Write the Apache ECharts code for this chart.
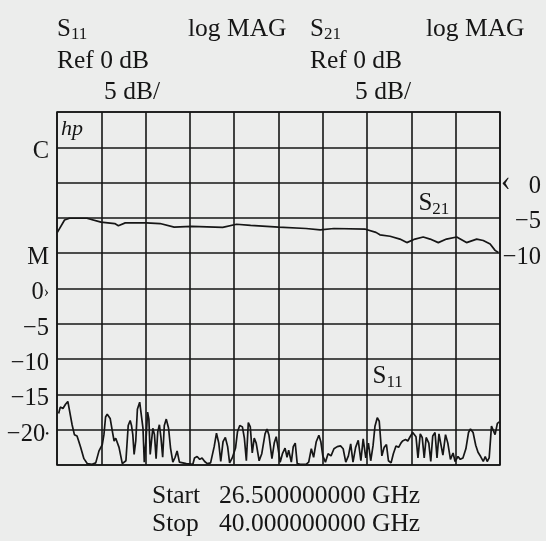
<!DOCTYPE html>
<html>
<head>
<meta charset="utf-8">
<script src="https://cdn.jsdelivr.net/npm/echarts@6/dist/echarts.min.js"></script>
<style>
  html, body { margin: 0; padding: 0; background: #ecedec; }
  #chart { width: 546px; height: 541px; }
</style>
</head>
<body>
<div id="chart"></div>
<script>
// sweep 26.5 - 40 GHz, 10 divisions
var freqStart = 26.5;
var freqStop = 40;

// S11 trace (left scale, dB)
var s11Freq = [26.55, 26.60, 26.68, 26.76, 26.83, 26.89, 26.96, 27.03, 27.11, 27.16, 27.22, 27.32, 27.42, 27.57, 27.68, 27.78, 27.88, 27.93, 27.98, 28.03,
  28.12, 28.19, 28.24, 28.29, 28.34, 28.39, 28.49, 28.60, 28.67, 28.73, 28.77, 28.81, 28.85, 28.90, 28.95, 29.02, 29.08, 29.12, 29.16, 29.21,
  29.26, 29.30, 29.34, 29.38, 29.42, 29.47, 29.52, 29.57, 29.62, 29.67, 29.72, 29.77, 29.83, 29.90, 29.96, 30.03, 30.10, 30.16, 30.23, 30.44,
  30.64, 30.69, 30.77, 30.85, 30.92, 31.00, 31.08, 31.18, 31.29, 31.36, 31.43, 31.49, 31.56, 31.63, 31.70, 31.76, 31.84, 31.90, 31.94, 32.00,
  32.07, 32.15, 32.21, 32.27, 32.33, 32.39, 32.45, 32.51, 32.57, 32.66, 32.74, 32.84, 32.90, 32.96, 33.05, 33.12, 33.18, 33.23, 33.30, 33.37,
  33.45, 33.51, 33.56, 33.64, 33.70, 33.76, 33.82, 33.91, 34.09, 34.17, 34.25, 34.32, 34.40, 34.48, 34.54, 34.60, 34.68, 34.76, 34.85, 34.94,
  35.04, 35.14, 35.22, 35.30, 35.38, 35.45, 35.52, 35.60, 35.68, 35.76, 35.83, 35.91, 35.99, 36.06, 36.13, 36.19, 36.26, 36.32, 36.40, 36.47,
  36.54, 36.60, 36.68, 36.75, 36.83, 36.91, 36.98, 37.03, 37.12, 37.19, 37.26, 37.34, 37.39, 37.44, 37.50, 37.57, 37.63, 37.69, 37.75, 37.83,
  37.89, 37.95, 38.02, 38.08, 38.14, 38.20, 38.26, 38.34, 38.41, 38.49, 38.57, 38.63, 38.72, 38.79, 38.87, 38.96, 39.04, 39.10, 39.18, 39.26,
  39.33, 39.41, 39.49, 39.55, 39.61, 39.67, 39.74, 39.79, 39.85, 39.92, 39.98];
var s11Db = [-17.7, -16.8, -17.0, -16.4, -16.0, -17.5, -19.3, -20.7, -20.9, -21.6, -22.5, -24.1, -24.8, -24.9, -24.7, -23.0, -22.1, -20.7, -18.2, -17.8,
  -18.4, -20.3, -21.6, -21.2, -21.4, -22.5, -24.8, -24.4, -19.4, -18.7, -19.4, -20.7, -23.5, -21.6, -17.1, -16.1, -16.2, -19.8, -24.6, -21.6,
  -17.5, -18.5, -23.5, -21.6, -19.8, -20.7, -24.1, -20.3, -19.3, -21.2, -23.9, -19.4, -18.5, -19.8, -22.6, -24.6, -23.9, -23.0, -24.6, -24.8,
  -24.9, -24.0, -23.8, -24.2, -24.0, -24.5, -24.8, -24.7, -22.4, -20.5, -21.9, -24.5, -21.7, -21.1, -22.4, -24.7, -24.0, -24.2, -22.6, -20.3,
  -19.4, -19.6, -21.2, -24.4, -19.0, -19.6, -23.3, -21.2, -21.9, -24.4, -23.4, -20.6, -19.9, -20.8, -24.1, -21.9, -21.0, -22.4, -24.6, -23.4,
  -22.6, -23.9, -22.9, -24.6, -22.4, -21.9, -24.8, -24.9, -24.9, -24.6, -22.7, -23.9, -21.7, -20.8, -21.7, -23.7, -24.6, -23.4, -23.7, -22.7,
  -22.4, -22.3, -22.7, -24.6, -23.7, -22.0, -24.6, -22.5, -21.5, -24.4, -21.3, -24.0, -21.9, -24.4, -22.3, -19.5, -18.3, -18.8, -23.7, -22.5,
  -22.1, -24.4, -24.7, -23.4, -22.3, -22.5, -21.9, -21.6, -21.4, -21.6, -21.0, -20.4, -20.2, -21.0, -24.0, -20.6, -21.1, -24.0, -21.1, -21.9,
  -24.5, -20.9, -20.4, -24.0, -20.6, -20.4, -23.6, -20.7, -21.9, -24.2, -23.3, -24.5, -23.8, -24.2, -24.0, -22.7, -20.4, -19.9, -20.4, -22.2,
  -23.2, -23.8, -24.5, -23.8, -24.5, -24.0, -19.5, -19.3, -20.7, -19.1, -18.9];

// S21 trace (right scale, dB)
var s21Freq = [26.51, 26.73, 26.88, 27.41, 27.84, 28.26, 28.37, 28.58, 29.22, 29.64, 30.07, 30.60, 31.55, 31.97, 32.40, 33.25, 34.09, 34.52, 34.94, 35.90,
  36.22, 36.34, 36.65, 36.95, 37.16, 37.41, 37.66, 37.87, 38.12, 38.37, 38.68, 38.98, 39.29, 39.49, 39.70, 39.85, 39.95];
var s21Db = [-7.05, -5.3, -5.05, -5.05, -5.6, -5.8, -6.1, -5.7, -5.7, -5.8, -6.3, -6.2, -6.35, -5.9, -6.05, -6.3, -6.5, -6.7, -6.5, -6.6,
  -7.05, -7.4, -7.6, -8.0, -8.5, -8.0, -7.7, -8.0, -8.5, -8.0, -7.7, -8.5, -8.0, -8.2, -8.7, -9.6, -9.9];

// tick labels
var s11Labels = { '20': 'C', '5': 'M', '0': '0{mk|›}', '-5': '−5', '-10': '−10', '-15': '−15', '-20': '−20{dot|•}' };
var s21Labels = { '0': '{mk|‹}{gap|}0', '-5': '−5', '-10': '−10' };

var serif = 'Liberation Serif';
var ink = '#161616';
var subRich = {
  s: { fontFamily: serif, fontSize: 25, lineHeight: 29, color: ink },
  sub: { fontFamily: serif, fontSize: 17, lineHeight: 21, verticalAlign: 'bottom', color: ink }
};

var chart = echarts.init(document.getElementById('chart'));

function txt(text, x, y, extra) {
  var style = { text: text, x: x, y: y, fill: ink, font: '25.5px "' + serif + '"', textVerticalAlign: 'middle' };
  for (var k in extra) style[k] = extra[k];
  return { type: 'text', style: style, z: 10 };
}

chart.setOption({
  backgroundColor: '#ecedec',
  animation: false,
  grid: { left: 57, right: 46, top: 112, bottom: 76, show: true, borderColor: ink, borderWidth: 1.6 },
  xAxis: {
    type: 'value', min: freqStart, max: freqStop, interval: 1.35,
    axisLine: { show: false }, axisTick: { show: false }, axisLabel: { show: false },
    splitLine: { show: true, lineStyle: { color: ink, width: 1.6 } }
  },
  yAxis: [
    {
      type: 'value', min: -25, max: 25, interval: 5, position: 'left',
      axisLine: { show: false }, axisTick: { show: false },
      splitLine: { show: true, lineStyle: { color: ink, width: 1.6 } },
      axisLabel: {
        margin: 8, padding: [9, 0, 0, 0], color: ink, fontFamily: serif, fontSize: 24.5,
        formatter: function (v) { return s11Labels[String(v)] || ''; },
        rich: {
          mk: { fontFamily: serif, fontSize: 16, color: ink },
          dot: { fontFamily: serif, fontSize: 11, color: ink }
        }
      }
    },
    {
      type: 'value', min: -40, max: 10, interval: 5, position: 'right',
      axisLine: { show: false }, axisTick: { show: false }, splitLine: { show: false },
      axisLabel: {
        margin: 41, align: 'right', padding: [8, 0, 0, 0], color: ink, fontFamily: serif, fontSize: 24.5,
        formatter: function (v) { return s21Labels[String(v)] || ''; },
        rich: {
          mk: { fontFamily: serif, fontSize: 30, color: ink, padding: [0, 0, 8, 0] },
          gap: { width: 18 }
        }
      }
    }
  ],
  series: [
    {
      name: 'S11', type: 'line', yAxisIndex: 0, showSymbol: false, symbol: 'none',
      lineStyle: { color: ink, width: 1.7 },
      data: s11Freq.map(function (f, i) { return [f, s11Db[i]]; }),
      markPoint: {
        symbol: 'rect', symbolSize: 1, itemStyle: { color: 'transparent' }, silent: true,
        label: { show: true, position: 'right', distance: 0, formatter: '{s|S}{sub|11}', rich: subRich },
        data: [{ coord: [36.1, -12.4] }]
      }
    },
    {
      name: 'S21', type: 'line', yAxisIndex: 1, showSymbol: false, symbol: 'none',
      lineStyle: { color: ink, width: 1.7 },
      data: s21Freq.map(function (f, i) { return [f, s21Db[i]]; }),
      markPoint: {
        symbol: 'rect', symbolSize: 1, itemStyle: { color: 'transparent' }, silent: true,
        label: { show: true, position: 'right', distance: 0, formatter: '{s|S}{sub|21}', rich: subRich },
        data: [{ coord: [37.5, -3.0] }]
      }
    }
  ],
  graphic: [
    txt('{s|S}{sub|11}', 57, 29, { rich: subRich }),
    txt('log MAG', 188, 29),
    txt('{s|S}{sub|21}', 310, 29, { rich: subRich }),
    txt('log MAG', 426, 29),
    txt('Ref 0 dB', 57, 61),
    txt('Ref 0 dB', 310, 61),
    txt('5 dB/', 104, 92),
    txt('5 dB/', 355, 92),
    txt('hp', 61, 129, { font: 'italic 22px "' + serif + '"' }),
    txt('Start', 152, 496),
    txt('26.500000000 GHz', 219, 496),
    txt('Stop', 152, 524),
    txt('40.000000000 GHz', 219, 524)
  ]
});
</script>
</body>
</html>
